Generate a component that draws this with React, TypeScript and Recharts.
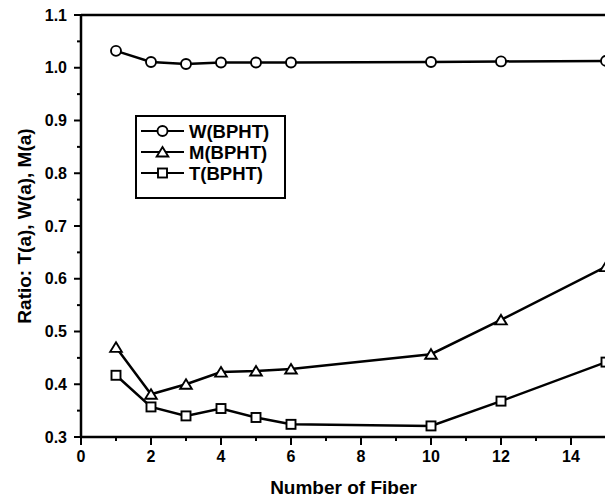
import { LineChart, Line, XAxis, YAxis, Legend, Label, ReferenceLine } from 'recharts';

const fiber = [1, 2, 3, 4, 5, 6, 10, 12, 15];
const wBPHT = [1.032, 1.011, 1.007, 1.01, 1.01, 1.01, 1.011, 1.012, 1.013];
const mBPHT = [0.47, 0.381, 0.4, 0.423, 0.425, 0.429, 0.457, 0.522, 0.623];
const tBPHT = [0.417, 0.357, 0.34, 0.354, 0.337, 0.324, 0.321, 0.368, 0.442];

const seriesOrder = ['w', 'm', 't'];
const xTicks = [0, 1, 2, 3, 4, 5, 6, 7, 8, 9, 10, 11, 12, 13, 14, 15];
const yTicks = [0.3, 0.35, 0.4, 0.45, 0.5, 0.55, 0.6, 0.65, 0.7, 0.75, 0.8, 0.85, 0.9, 0.95, 1.0, 1.05, 1.1];

const data = fiber.map((f, i) => ({ fiber: f, w: wBPHT[i], m: mBPHT[i], t: tBPHT[i] }));

const FONT = '"Liberation Sans", Arial, sans-serif';

function Marker({ kind, cx, cy }: { kind: string; cx: number; cy: number }) {
   if (kind === 'circle') {
      return <circle cx={cx} cy={cy} r={5} fill="#fff" stroke="#000" strokeWidth={1.9} />;
   }
   if (kind === 'triangle') {
      const pts = `${cx},${cy - 5} ${cx + 5.8},${cy + 4.5} ${cx - 5.8},${cy + 4.5}`;
      return <polygon points={pts} fill="#fff" stroke="#000" strokeWidth={1.9} />;
   }
   return <rect x={cx - 4.5} y={cy - 4.5} width={9} height={9} fill="#fff" stroke="#000" strokeWidth={1.9} />;
}

const markerOf: Record<string, string> = { w: 'circle', m: 'triangle', t: 'square' };

function dotFor(key: string) {
   return (props: any) => (
      <Marker key={`${key}-${props.index}`} kind={markerOf[key]} cx={props.cx} cy={props.cy} />
   );
}

function YTick({ x, y, payload }: any) {
   const v = payload.value as number;
   const major = Math.round(v * 100) % 10 === 0;
   return (
      <g>
         <line x1={x - (major ? 7 : 4)} x2={x} y1={y} y2={y} stroke="#000" strokeWidth={2} />
         {major && (
            <text x={x - 14} y={y} textAnchor="end" dominantBaseline="central"
               fontFamily={FONT} fontWeight="bold" fontSize={16} fill="#000">
               {v.toFixed(1)}
            </text>
         )}
      </g>
   );
}

function XTick({ x, y, payload }: any) {
   const v = payload.value as number;
   const major = v % 2 === 0;
   return (
      <g>
         <line x1={x} x2={x} y1={y} y2={y + (major ? 8 : 4)} stroke="#000" strokeWidth={2} />
         {major && (
            <text x={x} y={y + 25} textAnchor="middle"
               fontFamily={FONT} fontWeight="bold" fontSize={16} fill="#000">
               {v}
            </text>
         )}
      </g>
   );
}

function LegendBox({ payload }: any) {
   const rows = [...(payload || [])].sort(
      (a: any, b: any) => seriesOrder.indexOf(a.dataKey) - seriesOrder.indexOf(b.dataKey)
   );
   return (
      <svg width={152} height={85} style={{ display: 'block' }}>
         <rect x={1} y={1} width={149} height={82} fill="#fff" stroke="#000" strokeWidth={2} />
         {rows.map((p: any, i: number) => {
            const cy = 16 + i * 21;
            return (
               <g key={p.value}>
                  <line x1={6} x2={49} y1={cy} y2={cy} stroke="#000" strokeWidth={2} />
                  <Marker kind={markerOf[p.dataKey]} cx={27.5} cy={cy} />
                  <text x={54} y={cy} dominantBaseline="central" fontFamily={FONT}
                     fontWeight="bold" fontSize={18.5} fill="#000">
                     {p.value}
                  </text>
               </g>
            );
         })}
      </svg>
   );
}

export default function App() {
   return (
      <div style={{ position: 'absolute', left: 0, top: 0, width: 605, height: 497, overflow: 'hidden', background: '#fff' }}>
         <LineChart width={610} height={497} data={data} margin={{ top: 15, right: 4, left: 21, bottom: 0 }}>
            <XAxis dataKey="fiber" type="number" domain={[0, 15]} ticks={xTicks} interval={0}
               tick={<XTick />} tickLine={false} tickSize={0} tickMargin={0} height={60}
               axisLine={{ stroke: '#000', strokeWidth: 2.5 }}>
               <Label value="Number of Fiber" position="insideBottom" offset={3}
                  style={{ fontFamily: FONT, fontWeight: 'bold', fontSize: 19, fill: '#000' }} />
            </XAxis>
            <YAxis type="number" domain={[0.3, 1.1]} ticks={yTicks} interval={0}
               tick={<YTick />} tickLine={false} tickSize={0} tickMargin={0} width={60}
               axisLine={{ stroke: '#000', strokeWidth: 2.5 }}>
               <Label value="Ratio: T(a), W(a), M(a)" position="center" angle={-90} dx={-27}
                  style={{ fontFamily: FONT, fontWeight: 'bold', fontSize: 19, fill: '#000', textAnchor: 'middle' }} />
            </YAxis>
            <ReferenceLine y={1.1} stroke="#000" strokeWidth={2.5} />
            <Legend layout="vertical" align="center" verticalAlign="middle"
               wrapperStyle={{ left: 135, top: 115, width: 152 }} content={<LegendBox />} />
            <Line dataKey="w" name="W(BPHT)" stroke="#000" strokeWidth={2.5}
               dot={dotFor('w')} activeDot={false} isAnimationActive={false} />
            <Line dataKey="m" name="M(BPHT)" stroke="#000" strokeWidth={2.5}
               dot={dotFor('m')} activeDot={false} isAnimationActive={false} />
            <Line dataKey="t" name="T(BPHT)" stroke="#000" strokeWidth={2.5}
               dot={dotFor('t')} activeDot={false} isAnimationActive={false} />
         </LineChart>
      </div>
   );
}
